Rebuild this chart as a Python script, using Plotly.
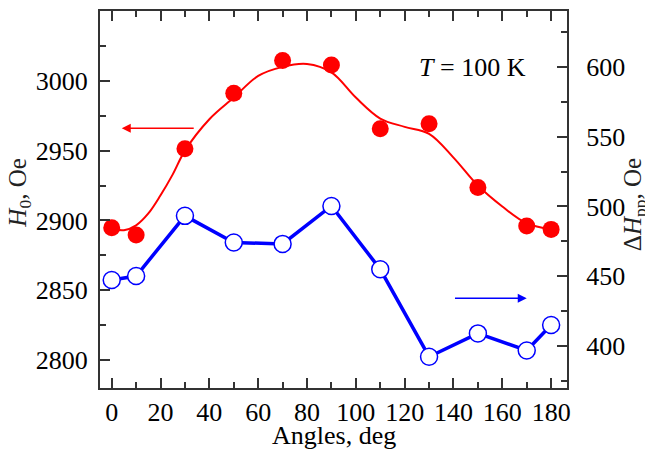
import plotly.graph_objects as go

# Data
angles = [0, 10, 30, 50, 70, 90, 110, 130, 150, 170, 180]
H0 = [2894.7, 2889.5, 2951.4, 2991.1, 3014.5, 3011.4, 2965.7, 2969.3, 2923.6, 2896.1, 2893.6]
dHpp = [447.3, 450.2, 493.3, 474.2, 473.2, 500.4, 455.0, 392.4, 409.1, 396.9, 415.1]

fit_angles = [0, 5, 10, 15, 20, 25, 30, 40, 50, 60, 70, 80, 90, 100, 110, 120, 130, 140, 150, 160, 170, 180]
fit_H0 = [2894.0, 2893.0, 2896.5, 2905.0, 2918.0, 2933.0, 2950.0, 2972.5, 2988.0, 3003.5, 3010.0,
          3012.0, 3006.0, 2988.0, 2973.0, 2967.0, 2962.0, 2945.0, 2925.0, 2910.0, 2898.0, 2893.6]

xtick_vals = [0, 20, 40, 60, 80, 100, 120, 140, 160, 180]
y1_ticks = [2800, 2850, 2900, 2950, 3000]
y2_ticks = [400, 450, 500, 550, 600]

FONT = "Liberation Serif"
AX = "#333333"
FS = 26

fig = go.Figure()
fig.add_trace(go.Scatter(x=fit_angles, y=fit_H0, mode="lines", line=dict(color="#ff0000", width=2, shape="spline", smoothing=1.0),
                         yaxis="y", showlegend=False, hoverinfo="skip"))
fig.add_trace(go.Scatter(x=angles, y=H0, mode="markers", marker=dict(color="#ff0000", size=17, line=dict(width=0)),
                         yaxis="y", showlegend=False))
fig.add_trace(go.Scatter(x=angles, y=dHpp, mode="lines+markers", line=dict(color="#0000ff", width=3.5),
                         marker=dict(color="white", size=17, line=dict(color="#0000ff", width=1.5)),
                         yaxis="y2", showlegend=False))

common = dict(showgrid=False, zeroline=False, showline=True, linecolor=AX, linewidth=2,
              ticks="inside", ticklen=10, tickwidth=1.5, tickcolor=AX, automargin=False,
              tickfont=dict(family=FONT, size=FS, color="black"))

fig.update_layout(
    width=645, height=449,
    margin=dict(l=92, r=86, t=3, b=69),
    paper_bgcolor="white", plot_bgcolor="white",
    font=dict(family=FONT, color="black"),
    xaxis=dict(range=[-4.8, 186.5], tickvals=xtick_vals, mirror="ticks",
               minor=dict(ticks="inside", ticklen=6, dtick=10, tick0=0, tickcolor=AX, tickwidth=1.5),
               ticklabelstandoff=0, **common),
    yaxis=dict(range=[2780, 3050], tickvals=y1_ticks, mirror=False,
               minor=dict(ticks="inside", ticklen=6, dtick=25, tick0=2800, tickcolor=AX, tickwidth=1.5),
               ticklabelstandoff=5, **common),
    yaxis2=dict(range=[370, 640], tickvals=y2_ticks, overlaying="y", side="right",
                minor=dict(ticks="inside", ticklen=6, dtick=25, tick0=400, tickcolor=AX, tickwidth=1.5),
                ticklabelstandoff=12, **common),
)

# Axis titles
fig.add_annotation(x=0.5, y=-0.125, xref="paper", yref="paper", text="Angles, deg", showarrow=False,
                   xanchor="center", yanchor="middle", font=dict(family=FONT, size=FS, color="black"))
fig.add_annotation(x=-0.173, y=0.516, xref="paper", yref="paper", text="<i>H</i><sub>0</sub>, Oe", showarrow=False,
                   textangle=-90, xanchor="center", yanchor="middle", font=dict(family=FONT, size=25, color="#222222"))
fig.add_annotation(x=1.1435, y=0.485, xref="paper", yref="paper", text="Δ<i>H</i><sub>pp</sub>, Oe", showarrow=False,
                   textangle=-90, xanchor="center", yanchor="middle", font=dict(family=FONT, size=25, color="#222222"))

fig.add_annotation(x=147.7, y=3009.7, xref="x", yref="y", text="<i>T</i> = 100 K", showarrow=False,
                   font=dict(family=FONT, size=FS, color="black"))
fig.add_annotation(x=4.1, y=2966.1, xref="x", yref="y", ax=34.2, ay=2966.1, axref="x", ayref="y",
                   text="", showarrow=True, arrowhead=2, arrowsize=1.2, arrowwidth=1.5, arrowcolor="#ff0000")
fig.add_annotation(x=170, y=434.2, xref="x", yref="y2", ax=140, ay=434.2, axref="x", ayref="y2",
                   text="", showarrow=True, arrowhead=2, arrowsize=1.2, arrowwidth=1.5, arrowcolor="#0000ff")

fig.write_html("out.html")
